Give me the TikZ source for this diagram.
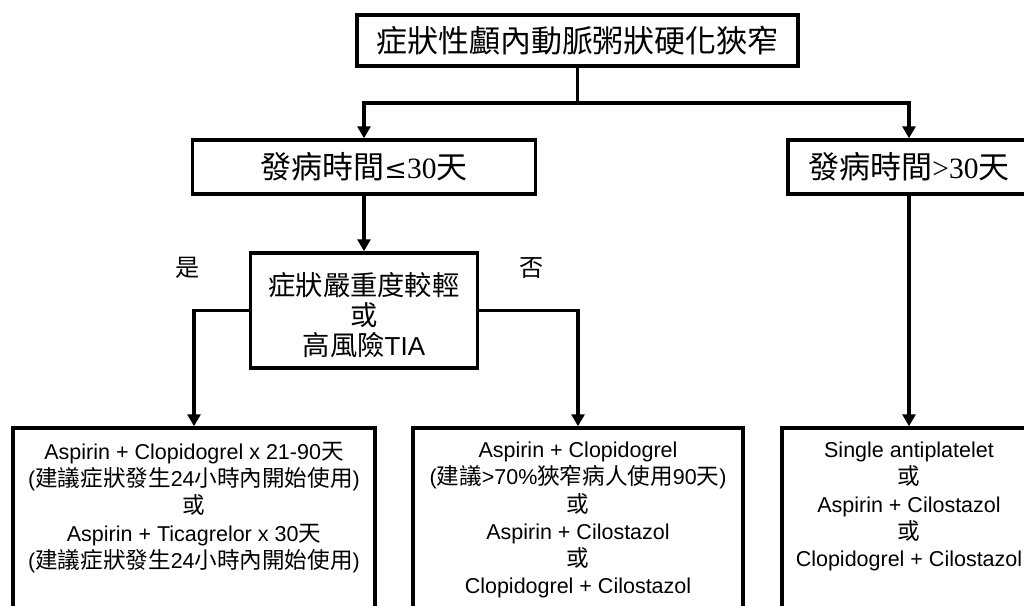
\documentclass[tikz,border=0pt]{standalone}
\usepackage{fontspec}
\setmainfont{Liberation Sans}
\newfontfamily\cjk[Scale=1.05]{Noto Sans CJK TC}
\newfontfamily\tms{Liberation Serif}
\newfontfamily\dvs{DejaVu Serif}
\usetikzlibrary{arrows.meta}
\begin{document}
\begin{tikzpicture}[x=1pt,y=-1pt,
  box/.style={draw, line width=3.5pt, inner sep=0pt, fill=white},
  arr/.style={line width=3.5pt, -{Triangle[width=13pt,length=12pt]}},
  ln/.style={line width=3.5pt},
  txt/.style={inner sep=0pt, align=center},
  small/.style={font=\fontsize{21.5}{27.2}\selectfont},
  mid/.style={font=\fontsize{26}{30}\selectfont},
  big/.style={font=\fontsize{29.5}{30}\selectfont}]
\useasboundingbox (0,0) rectangle (1024,605);
% boxes
\node[box, big, minimum width=441pt, minimum height=51pt] (T) at (577.5,40.5) {\cjk 症狀性顱內動脈粥狀硬化狹窄};
\node[box, big, minimum width=343pt, minimum height=54pt] (A) at (364,167) {{\cjk 發病時間}{\dvs\fontsize{27}{30}\selectfont ≤}{\tms 30}{\cjk 天}};
\node[box, big, minimum width=242pt, minimum height=54pt] (B) at (909,167) {{\cjk 發病時間}{\tms >30}{\cjk 天}};
\node[box, minimum width=227pt, minimum height=115pt] (C) at (364,310.5) {};
\node[txt, mid] (Ct) at (364,315) {{\cjk 症狀嚴重度較輕}\\{\cjk 或}\\{\cjk 高風險}TIA};
\node[box, minimum width=362pt, minimum height=220pt] (D) at (194,538) {};
\node[box, minimum width=330pt, minimum height=220pt] (E) at (578,538) {};
\node[box, minimum width=254pt, minimum height=220pt] (F) at (909,538) {};
% texts in bottom boxes
\node[txt, small, anchor=north] (Dt) at (194,442) {Aspirin + Clopidogrel x 21-90{\cjk 天}\\({\cjk 建議症狀發生}24{\cjk 小時內開始使用})\\{\cjk 或}\\Aspirin + Ticagrelor x 30{\cjk 天}\\({\cjk 建議症狀發生}24{\cjk 小時內開始使用})};
\node[txt, small, anchor=north] (Et) at (578,442) {Aspirin + Clopidogrel\\({\cjk 建議}>70\%{\cjk 狹窄病人使用}90{\cjk 天})\\{\cjk 或}\\Aspirin + Cilostazol\\{\cjk 或}\\Clopidogrel + Cilostazol};
\node[txt, small, anchor=north] (Ft) at (909,442) {Single antiplatelet\\{\cjk 或}\\Aspirin + Cilostazol\\{\cjk 或}\\Clopidogrel + Cilostazol};
% labels
\node[txt, font=\fontsize{23}{24}\selectfont] (yes) at (188,268) {\cjk 是};
\node[txt, font=\fontsize{23}{24}\selectfont] (no) at (532,268) {\cjk 否};
% connectors
\coordinate (j) at (577.5,103);
\draw[ln] (T.south) -- (j);
\draw[arr] (j) -| (A.north);
\draw[arr] (j) -| (B.north);
\draw[arr] (A.south) -- (C.north);
\draw[arr] (C.west) -| (D.north);
\draw[arr] (C.east) -| (E.north);
\draw[arr] (B.south) -- (F.north);
\end{tikzpicture}
\end{document}
